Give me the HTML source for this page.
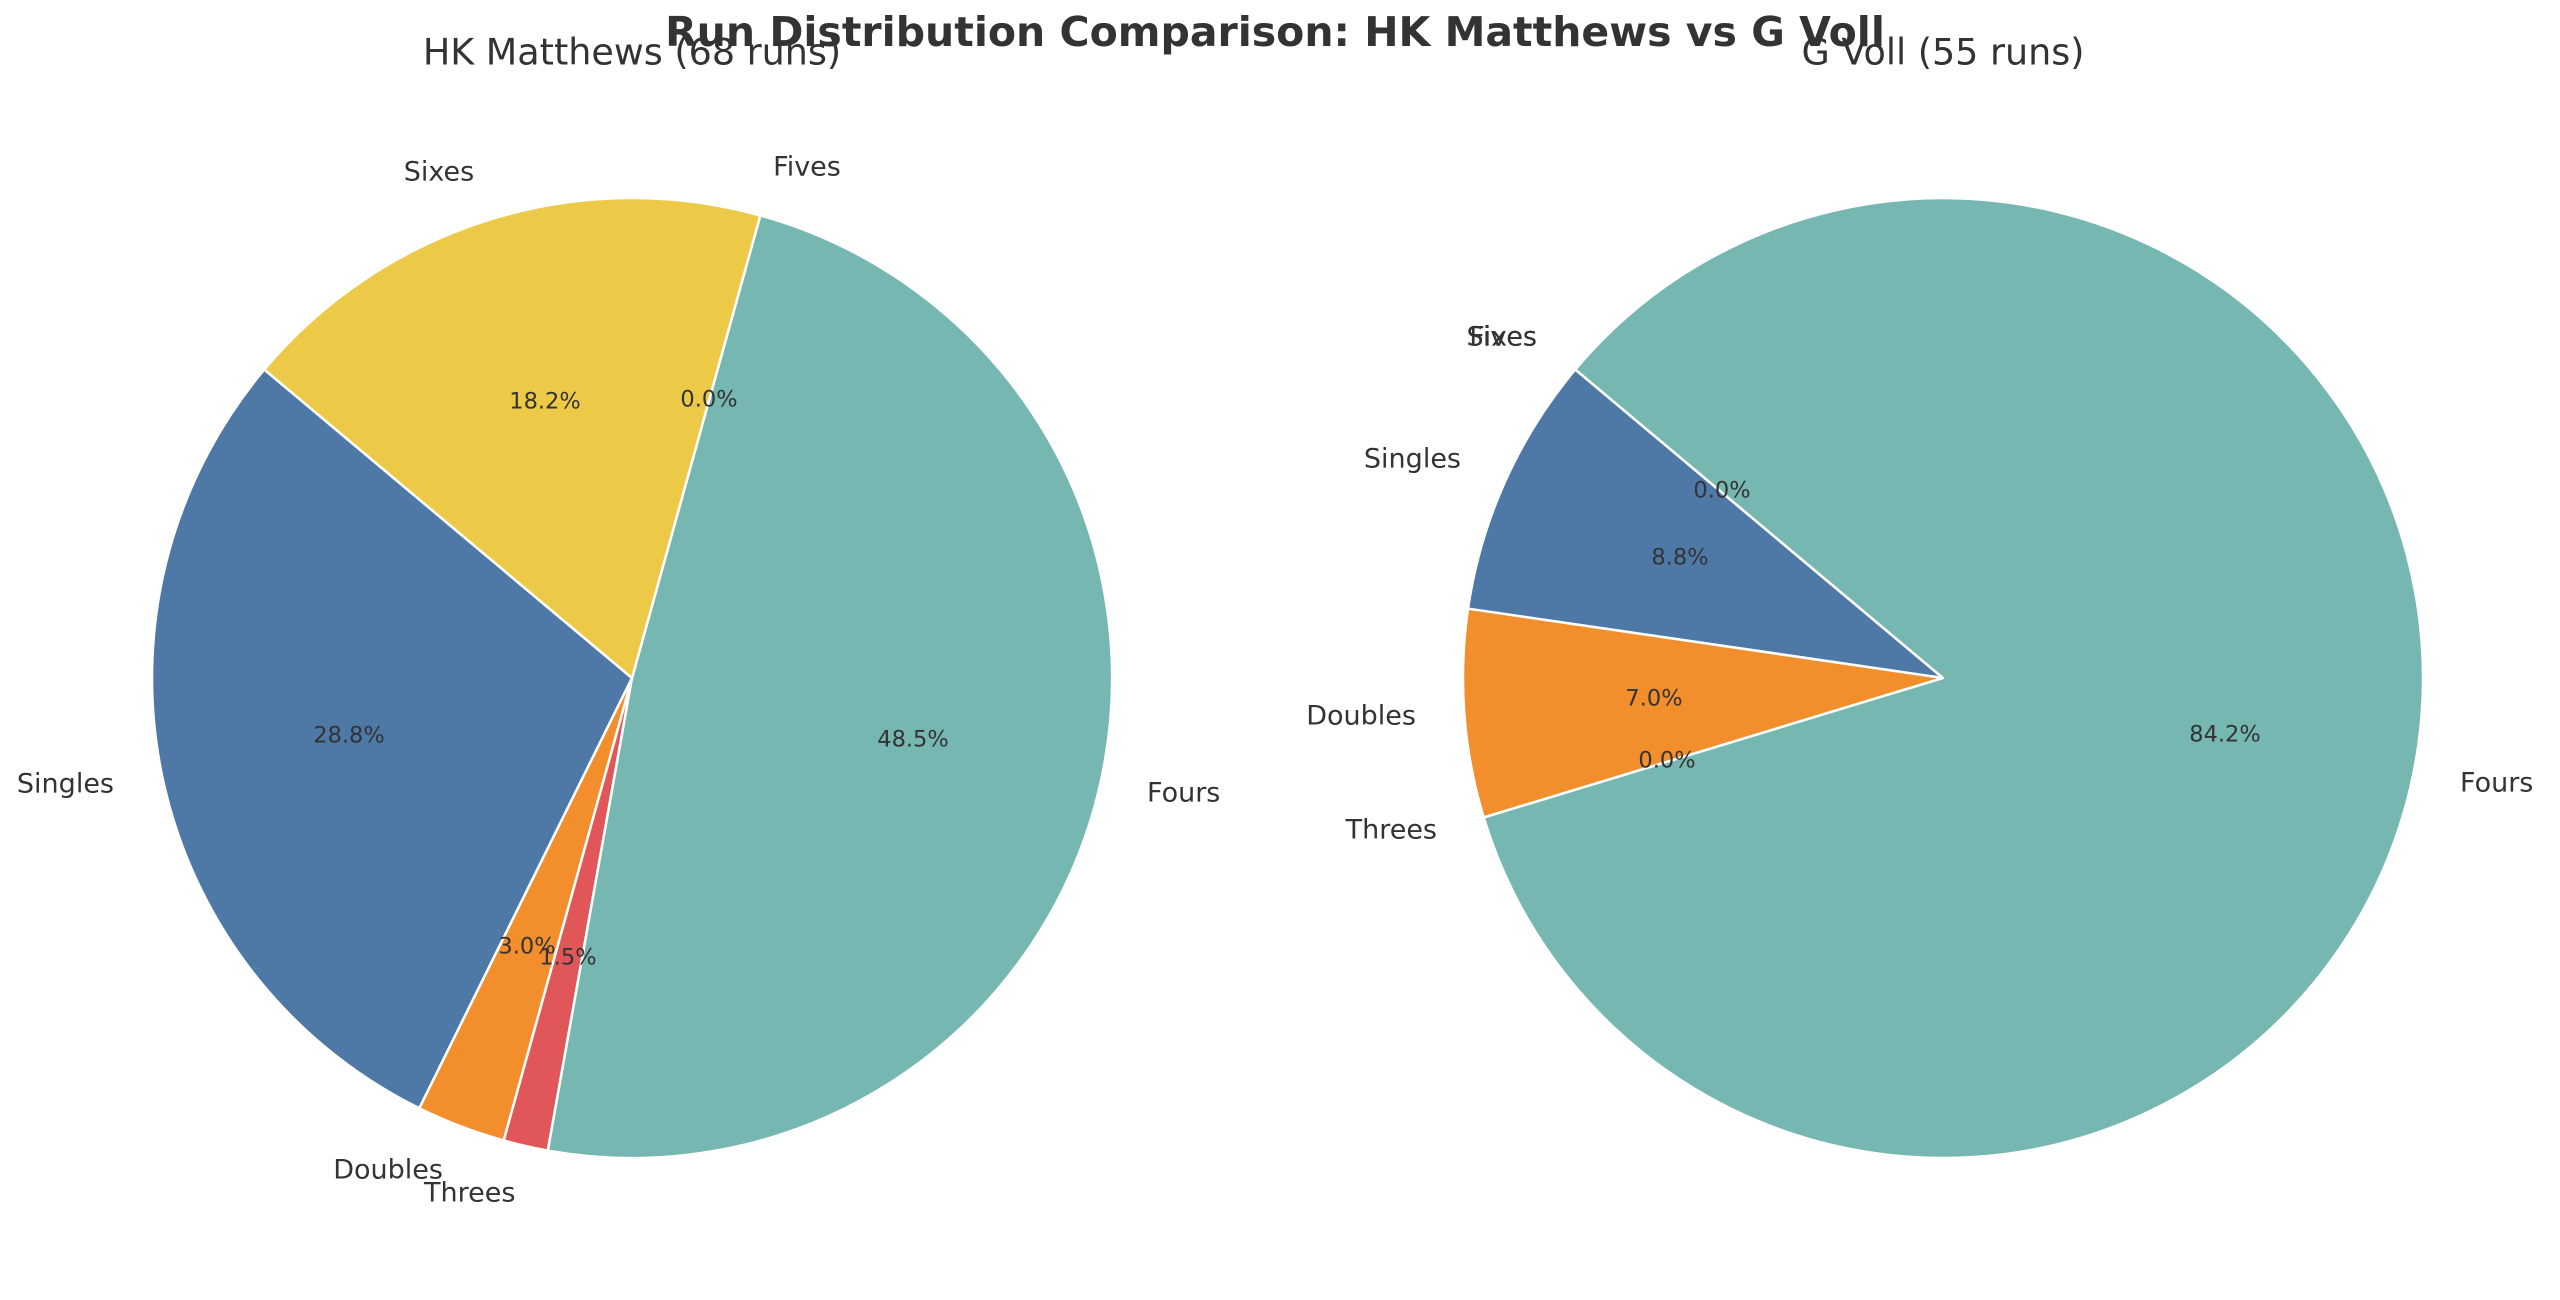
<!DOCTYPE html>
<html><head><meta charset="utf-8"><style>
html,body{margin:0;padding:0;background:#fff;}
svg text{font-family:"DejaVu Sans","Liberation Sans",sans-serif;fill:#333;}
</style></head><body>
<svg width="2560" height="1295" viewBox="0 0 2560 1295" xmlns="http://www.w3.org/2000/svg">
<rect width="2560" height="1295" fill="#fff"/>
<g stroke="#fff" stroke-width="2.5" stroke-linejoin="round">
<path d="M632 678 L264.3 369.5 A480 480 0 0 0 419.3 1108.3 Z" fill="#4e79a7"/>
<path d="M632 678 L419.3 1108.3 A480 480 0 0 0 503.7 1140.5 Z" fill="#f28e2b"/>
<path d="M632 678 L503.7 1140.5 A480 480 0 0 0 547.8 1150.6 Z" fill="#e15759"/>
<path d="M632 678 L547.8 1150.6 A480 480 0 0 0 760.3 215.5 Z" fill="#76b7b2"/>
<path d="M632 678 L760.3 215.5 A480 480 0 0 0 264.3 369.5 Z" fill="#edc948"/>
<path d="M1943 678 L1575.3 369.5 A480 480 0 0 0 1468.0 608.7 Z" fill="#4e79a7"/>
<path d="M1943 678 L1468.0 608.7 A480 480 0 0 0 1483.7 817.5 Z" fill="#f28e2b"/>
<path d="M1943 678 L1483.7 817.5 A480 480 0 1 0 1575.3 369.5 Z" fill="#76b7b2"/>
</g>
<g font-size="27" dominant-baseline="middle">
<text x="439" y="173" text-anchor="middle">Sixes</text>
<text x="807" y="168" text-anchor="middle">Fives</text>
<text x="1147" y="794">Fours</text>
<text x="114" y="785" text-anchor="end">Singles</text>
<text x="443" y="1171" text-anchor="end">Doubles</text>
<text x="424" y="1194">Threes</text>
<text x="1537" y="338" text-anchor="end">Sixes</text>
<text x="1537" y="338" text-anchor="end">Fives</text>
<text x="1461" y="460" text-anchor="end">Singles</text>
<text x="1416" y="717" text-anchor="end">Doubles</text>
<text x="1437" y="831" text-anchor="end">Threes</text>
<text x="2460" y="784">Fours</text>
</g>
<g font-size="22.5" text-anchor="middle" dominant-baseline="middle">
<text x="545" y="402">18.2%</text>
<text x="709" y="400">0.0%</text>
<text x="349" y="736">28.8%</text>
<text x="913" y="740">48.5%</text>
<text x="527" y="947">3.0%</text>
<text x="568" y="958">1.5%</text>
<text x="1722" y="491">0.0%</text>
<text x="1680" y="558">8.8%</text>
<text x="1654" y="699">7.0%</text>
<text x="1667" y="761">0.0%</text>
<text x="2225" y="735">84.2%</text>
</g>
<text x="632" y="54" font-size="36.5" text-anchor="middle" dominant-baseline="middle">HK Matthews (68 runs)</text>
<text x="1943" y="54" font-size="36.5" text-anchor="middle" dominant-baseline="middle">G Voll (55 runs)</text>
<text x="1275" y="35" font-size="41" font-weight="bold" text-anchor="middle" dominant-baseline="middle">Run Distribution Comparison: HK Matthews vs G Voll</text>
</svg>
</body></html>
